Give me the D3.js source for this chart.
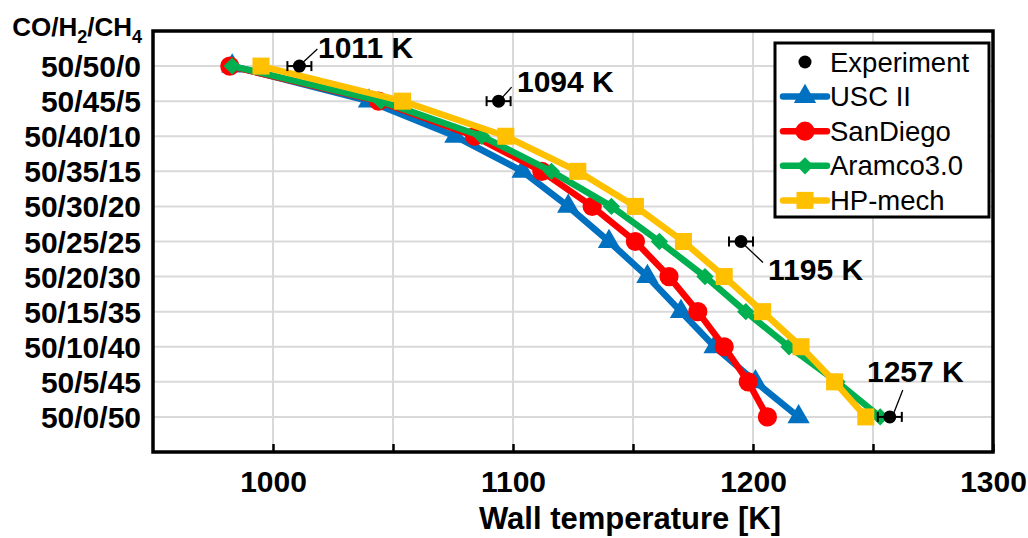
<!DOCTYPE html>
<html>
<head>
<meta charset="utf-8">
<script src="https://cdn.jsdelivr.net/npm/d3@7"></script>
<style>
  html, body { margin: 0; padding: 0; background: #fff; }
  svg { display: block; font-family: "Liberation Sans", Arial, sans-serif; }
</style>
</head>
<body>
<svg id="chart" width="1028" height="538"></svg>
<script>
// Mixture compositions CO/H2/CH4 (rows, top to bottom)
const mixtures = ["50/50/0", "50/45/5", "50/40/10", "50/35/15", "50/30/20", "50/25/25",
                  "50/20/30", "50/15/35", "50/10/40", "50/5/45", "50/0/50"];

// Predicted wall temperature [K] per mechanism
const uscII    = [983, 1040, 1076, 1104, 1123, 1140, 1156, 1170, 1184, 1201, 1219];
const sanDiego = [982, 1044, 1084, 1112, 1133, 1151, 1165, 1177, 1188, 1198, 1206];
const aramco   = [983, 1045, 1087, 1116, 1141, 1161, 1180, 1197, 1215, 1235, 1253];
const hpMech   = [995, 1054, 1097, 1127, 1151, 1171, 1188, 1204, 1220, 1234, 1247];

// Measured wall temperature [K] with uncertainty
const expMixtures = ["50/50/0", "50/45/5", "50/25/25", "50/0/50"];
const expValues   = [1011, 1094, 1195, 1257];
const expError    = [5, 5, 5, 5];

const xTickValues  = [1000, 1050, 1100, 1150, 1200, 1250, 1300];
const xTickLabels  = [1000, 1100, 1200, 1300];

const series = [
  { name: "USC II",    values: uscII,    color: "#0070C0", shape: "triangle" },
  { name: "SanDiego",  values: sanDiego, color: "#FF0000", shape: "circle" },
  { name: "Aramco3.0", values: aramco,   color: "#00B050", shape: "diamond" },
  { name: "HP-mech",   values: hpMech,   color: "#FFC000", shape: "square" }
];

const plot = { left: 153, right: 993, top: 31, bottom: 452 };
const svg = d3.select("#chart");

const x = d3.scaleLinear().domain([950, 1300]).range([plot.left, plot.right]);
const y = d3.scalePoint().domain(mixtures).range([plot.top, plot.bottom]).padding(1);

// Gridlines
const grid = svg.append("g");
grid.selectAll("line.h").data(mixtures).join("line")
  .attr("x1", plot.left).attr("x2", plot.right)
  .attr("y1", d => y(d)).attr("y2", d => y(d))
  .attr("stroke", "#d9d9d9").attr("stroke-width", 2);
grid.selectAll("line.v").data(xTickValues.filter(v => v < 1300)).join("line")
  .attr("x1", d => x(d)).attr("x2", d => x(d))
  .attr("y1", plot.top).attr("y2", plot.bottom)
  .attr("stroke", "#d9d9d9").attr("stroke-width", 2);

// Bottom axis with inward ticks
const xAxis = d3.axisBottom(x)
  .tickValues(xTickValues)
  .tickSizeInner(-8).tickSizeOuter(0)
  .tickPadding(30)
  .tickFormat(d => xTickLabels.includes(d) ? d : "");
const gx = svg.append("g").attr("transform", `translate(0,${plot.bottom})`).call(xAxis);
gx.select(".domain").remove();
gx.selectAll(".tick line").attr("stroke", "#000").attr("stroke-width", 2.5);
gx.selectAll(".tick text")
  .attr("font-size", 30).attr("font-weight", "bold").attr("fill", "#000")
  .attr("dy", null).attr("y", 40);

// Left category labels
const yAxis = d3.axisLeft(y).tickSize(0).tickPadding(12);
const gy = svg.append("g").attr("transform", `translate(${plot.left},0)`).call(yAxis);
gy.select(".domain").remove();
gy.selectAll(".tick text")
  .attr("font-size", 30).attr("font-weight", "bold").attr("fill", "#000")
  .attr("dy", "0.35em");

// Frame
svg.append("rect")
  .attr("x", plot.left).attr("y", plot.top)
  .attr("width", plot.right - plot.left).attr("height", plot.bottom - plot.top)
  .attr("fill", "none").attr("stroke", "#000").attr("stroke-width", 3.5);

// Header over the category labels
const head = svg.append("text")
  .attr("x", 142).attr("y", 36).attr("text-anchor", "end")
  .attr("font-size", 26).attr("font-weight", "bold").attr("fill", "#000");
head.append("tspan").text("CO/H");
head.append("tspan").text("2").attr("font-size", 18).attr("dy", 7);
head.append("tspan").text("/CH").attr("dy", -7);
head.append("tspan").text("4").attr("font-size", 18).attr("dy", 7);

// Axis title
svg.append("text")
  .attr("x", 630).attr("y", 529).attr("text-anchor", "middle")
  .attr("font-size", 31).attr("font-weight", "bold").attr("fill", "#000")
  .text("Wall temperature [K]");

// Marker shapes
function markerPath(shape) {
  switch (shape) {
    case "triangle": return d3.symbol(d3.symbolTriangle, 215)();
    case "circle":   return d3.symbol(d3.symbolCircle, 290)();
    case "diamond":  return d3.symbol(d3.symbolSquare, 150)();
    case "square":   return d3.symbol(d3.symbolSquare, 290)();
  }
}
const markerRotate = s => s === "diamond" ? " rotate(45)" : "";

// Mechanism curves
const line = d3.line().x(d => x(d.v)).y(d => y(d.m));
series.forEach(s => {
  const pts = s.values.map((v, i) => ({ v, m: mixtures[i] }));
  const g = svg.append("g");
  g.append("path").datum(pts)
    .attr("d", line).attr("fill", "none")
    .attr("stroke", s.color).attr("stroke-width", 6.5)
    .attr("stroke-linejoin", "round");
  g.selectAll("path.m").data(pts).join("path")
    .attr("d", markerPath(s.shape))
    .attr("transform", d => `translate(${x(d.v)},${y(d.m)})${markerRotate(s.shape)}`)
    .attr("fill", s.color);
});

// Experimental points with error bars
const expPts = expValues.map((v, i) => ({ v, m: expMixtures[i], e: expError[i] }));
const ge = svg.append("g");
ge.selectAll("line.bar").data(expPts).join("line")
  .attr("x1", d => x(d.v - d.e)).attr("x2", d => x(d.v + d.e))
  .attr("y1", d => y(d.m)).attr("y2", d => y(d.m))
  .attr("stroke", "#000").attr("stroke-width", 2);
ge.selectAll("line.capl").data(expPts).join("line")
  .attr("x1", d => x(d.v - d.e)).attr("x2", d => x(d.v - d.e))
  .attr("y1", d => y(d.m) - 5).attr("y2", d => y(d.m) + 5)
  .attr("stroke", "#000").attr("stroke-width", 2);
ge.selectAll("line.capr").data(expPts).join("line")
  .attr("x1", d => x(d.v + d.e)).attr("x2", d => x(d.v + d.e))
  .attr("y1", d => y(d.m) - 5).attr("y2", d => y(d.m) + 5)
  .attr("stroke", "#000").attr("stroke-width", 2);
ge.selectAll("circle").data(expPts).join("circle")
  .attr("cx", d => x(d.v)).attr("cy", d => y(d.m)).attr("r", 6.5)
  .attr("fill", "#000");

// Leader lines from each point towards its value label (end offsets in px)
const leaders = [
  { dx: 18, dy: -17 },
  { dx: 13, dy: -14 },
  { dx: 22, dy: 21 },
  { dx: 13, dy: -27 }
];
expPts.forEach((d, i) => {
  const c = leaders[i];
  const px = x(d.v), py = y(d.m);
  const sx = Math.sign(c.dx), sy = Math.sign(c.dy);
  ge.append("line")
    .attr("x1", px + sx * 4).attr("y1", py + sy * 4)
    .attr("x2", px + c.dx).attr("y2", py + c.dy)
    .attr("stroke", "#000").attr("stroke-width", 1.3);
});
const calloutText = [
  { x: 318, y: 58 }, { x: 517, y: 92 }, { x: 768, y: 280 }, { x: 867, y: 382 }
];
ge.selectAll("text.val").data(expPts).join("text")
  .attr("x", (d, i) => calloutText[i].x).attr("y", (d, i) => calloutText[i].y)
  .attr("font-size", 30).attr("font-weight", "bold").attr("fill", "#000")
  .text(d => `${d.v} K`);

// Legend
const leg = svg.append("g");
leg.append("rect")
  .attr("x", 775).attr("y", 43).attr("width", 214).attr("height", 174)
  .attr("fill", "#fff").attr("stroke", "#000").attr("stroke-width", 3);
const legRows = [{ name: "Experiment", color: "#000", shape: "exp" }].concat(series);
legRows.forEach((s, i) => {
  const cy = 62 + i * 34.6;
  if (s.shape === "exp") {
    leg.append("circle").attr("cx", 805).attr("cy", cy).attr("r", 6.5).attr("fill", "#000");
  } else {
    leg.append("line").attr("x1", 783).attr("x2", 827).attr("y1", cy).attr("y2", cy)
      .attr("stroke", s.color).attr("stroke-width", 6.5).attr("stroke-linecap", "round");
    leg.append("path").attr("d", markerPath(s.shape))
      .attr("transform", `translate(805,${cy})${markerRotate(s.shape)}`)
      .attr("fill", s.color);
  }
  leg.append("text").attr("x", 830).attr("y", cy + 9.5)
    .attr("font-size", 27.5).attr("fill", "#000").text(s.name);
});
</script>
</body>
</html>
